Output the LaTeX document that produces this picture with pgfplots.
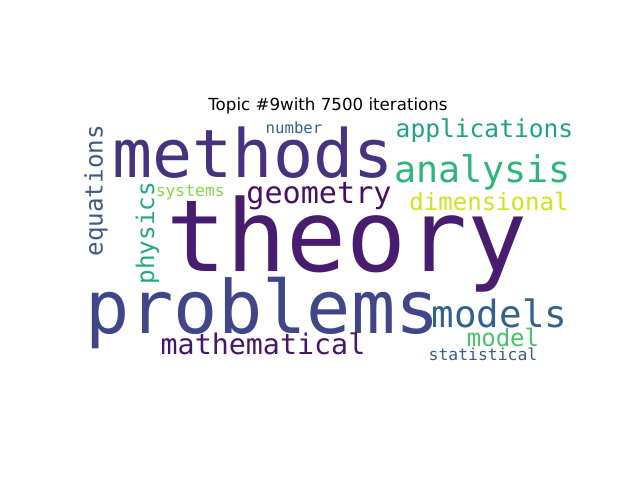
\documentclass[border=0pt]{standalone}
\usepackage{fontspec}
\setmainfont{DejaVu Sans}
\newfontfamily\wcfont{DejaVu Sans Mono}
\usepackage{pgfplots}
\pgfplotsset{compat=1.18}
\usepackage{pgfplotstable}

\definecolor{wc1}{HTML}{481D6F}
\definecolor{wc2}{HTML}{46327E}
\definecolor{wc3}{HTML}{404688}
\definecolor{wc4}{HTML}{471063}
\definecolor{wc5}{HTML}{2FB47C}
\definecolor{wc6}{HTML}{1FA188}
\definecolor{wc7}{HTML}{D2E21B}
\definecolor{wc8}{HTML}{33638D}
\definecolor{wc9}{HTML}{4AC16D}
\definecolor{wc10}{HTML}{3B5B8B}
\definecolor{wc11}{HTML}{481668}
\definecolor{wc12}{HTML}{33638D}
\definecolor{wc13}{HTML}{86D549}
\definecolor{wc14}{HTML}{3E5A8A}
\definecolor{wc15}{HTML}{22A884}

\pgfplotstableread{
x y size angle col word
347 272 71.8 0 1 theory
253 178 48 0 2 methods
262.5 333 53 0 3 problems
319 203.3 21.7 0 4 geometry
482.5 182.7 26.4 0 5 analysis
484.5 137.7 17.7 0 6 applications
489 210 17.3 0 7 dimensional
499.5 327.7 27 0 8 models
503 346 17.3 0 9 model
483 360.7 11.8 0 10 statistical
263 354.3 20.4 0 11 mathematical
294 133.3 11.3 0 12 number
190.3 196.7 11.8 0 13 systems
102.5 190.8 17.4 90 14 equations
154 233.3 17.5 90 15 physics
}\words

\begin{document}
\begin{tikzpicture}
\useasboundingbox (0,0) rectangle (460.8pt,345.6pt);
\begin{axis}[
  at={(57.6pt,81.792pt)}, anchor=south west,
  scale only axis, width=357.12pt, height=178.56pt,
  xmin=80, xmax=576, ymin=118.4, ymax=366.4, y dir=reverse,
  axis lines=none, clip=false,
  title={Topic \#9with 7500 iterations},
  title style={at={(0.5,1)}, anchor=base, font=\fontsize{12}{14}\selectfont, inner sep=0pt},
]
\addplot[only marks, mark=none,
  point meta=explicit symbolic,
  visualization depends on={\thisrow{col}\as\wcol},
  visualization depends on={\thisrow{size}\as\wsize},
  visualization depends on={\thisrow{angle}\as\wang},
  nodes near coords={\pgfmathtruncatemacro\ci{\wcol}\fontsize{\wsize}{\wsize}\wcfont\color{wc\ci}\pgfplotspointmeta},
  every node near coord/.append style={anchor=base, inner sep=0pt, rotate=\wang},
] table[x=x,y=y,meta=word]{\words};
\end{axis}
\end{tikzpicture}
\end{document}
